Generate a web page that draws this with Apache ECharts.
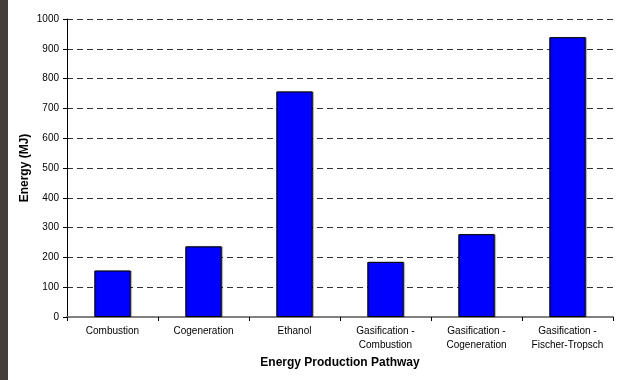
<!DOCTYPE html>
<html>
<head>
<meta charset="utf-8">
<script src="https://cdn.jsdelivr.net/npm/echarts@6/dist/echarts.min.js"></script>
<style>
  html, body { margin: 0; padding: 0; background: #fff; }
  #chart { width: 620px; height: 380px; }
</style>
</head>
<body>
<div id="chart"></div>
<script>
// Energy output by production pathway
const categories = [
  'Combustion',
  'Cogeneration',
  'Ethanol',
  'Gasification -\nCombustion',
  'Gasification -\nCogeneration',
  'Gasification -\nFischer-Tropsch'
];
const energyValues = [156, 237, 757, 185, 278, 939];
const yTicks = { min: 0, max: 1000, interval: 100 };

const chart = echarts.init(document.getElementById('chart'), null, { renderer: 'canvas' });
const font = 'Liberation Sans, Arial, sans-serif';

chart.setOption({
  animation: false,
  backgroundColor: '#ffffff',
  graphic: [{
    type: 'rect',
    left: 0, top: 0,
    shape: { width: 8, height: 380 },
    style: { fill: '#443f3b' }
  }],
  grid: { left: 67, right: 7, top: 19, bottom: 63, containLabel: false },
  xAxis: {
    type: 'category',
    data: categories,
    name: 'Energy Production Pathway',
    nameLocation: 'middle',
    nameGap: 40,
    nameMoveOverlap: false,
    nameTextStyle: { fontFamily: font, fontSize: 12, fontWeight: 'bold', color: '#000' },
    axisLine: { lineStyle: { color: '#808080', width: 2 } },
    axisTick: { show: true, alignWithLabel: false, interval: 0, length: 4, lineStyle: { color: '#000' } },
    axisLabel: { interval: 0, fontFamily: font, fontSize: 10, color: '#000', margin: 7, lineHeight: 14 },
    splitLine: { show: false }
  },
  yAxis: {
    type: 'value',
    min: yTicks.min,
    max: yTicks.max,
    interval: yTicks.interval,
    name: 'Energy (MJ)',
    nameLocation: 'middle',
    nameGap: 36,
    nameMoveOverlap: false,
    nameTextStyle: { fontFamily: font, fontSize: 12, fontWeight: 'bold', color: '#000' },
    axisLine: { show: true, lineStyle: { color: '#000', width: 1 } },
    axisTick: { show: true, length: 4, lineStyle: { color: '#000' } },
    axisLabel: { fontFamily: font, fontSize: 10, color: '#000', margin: 8, formatter: v => String(v) },
    splitLine: { show: true, lineStyle: { color: '#333', type: [6, 4], width: 1 } }
  },
  series: [{
    type: 'bar',
    data: energyValues,
    barWidth: '40%',
    itemStyle: {
      color: '#0000ff',
      borderColor: '#000',
      borderWidth: 1,
      shadowColor: 'rgba(0,0,0,0.35)',
      shadowBlur: 1,
      shadowOffsetX: 1
    }
  }]
});
</script>
</body>
</html>
